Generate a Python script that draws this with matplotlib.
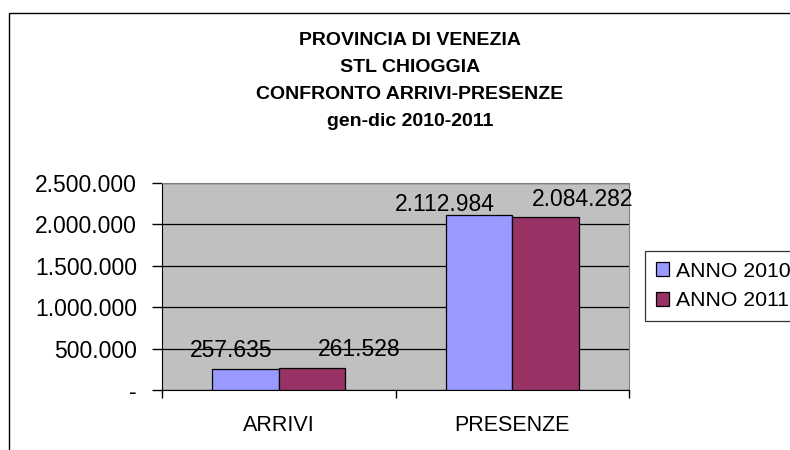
import numpy as np
from matplotlib import pyplot as plt
from matplotlib.patches import Rectangle
from matplotlib.ticker import FuncFormatter

plt.rcParams['font.family'] = ['Liberation Sans', 'DejaVu Sans']

categorie = ["ARRIVI", "PRESENZE"]
anno_2010 = [257635, 2112984]
anno_2011 = [261528, 2084282]
serie = ["ANNO 2010", "ANNO 2011"]
colori = ["#9999FF", "#993366"]
titolo = "PROVINCIA DI VENEZIA\nSTL CHIOGGIA\nCONFRONTO ARRIVI-PRESENZE\ngen-dic 2010-2011"

W, H = 790, 450


def fmt(v, pos=None):
    # formato italiano, zero come trattino
    if v == 0:
        return "-"
    return "{:,.0f}".format(v).replace(",", ".")


fig = plt.figure(figsize=(W / 100, H / 100), dpi=100)

# cornice del grafico (esce dall'immagine a destra e in basso)
fig.patches.append(Rectangle((9 / W, -0.1), 1.2, 1 - 13 / H + 0.1, transform=fig.transFigure,
                             fill=False, edgecolor="black", linewidth=1.0))

fig.text(410 / W, 1 - 81 / H, titolo, ha="center", va="center", fontsize=14,
         fontweight="bold", linespacing=1.78)

ax = fig.add_axes([162 / W, 1 - 390 / H, (629 - 162) / W, (390 - 183) / H])
ax.set_facecolor("#C0C0C0")

x = np.arange(len(categorie))
w = 0.285
b1 = ax.bar(x - w / 2, anno_2010, w, color=colori[0], edgecolor="black", linewidth=0.9,
            label=serie[0], zorder=3)
b2 = ax.bar(x + w / 2, anno_2011, w, color=colori[1], edgecolor="black", linewidth=0.9,
            label=serie[1], zorder=3)

# spostamenti delle etichette (pixel) come nell'originale
spost = [[(-14, 12), (-34, 4)], [(47, 12), (37, 11)]]
for s, bars in enumerate((b1, b2)):
    for i, r in enumerate(bars):
        dx, dy = spost[s][i]
        ax.annotate(fmt(r.get_height()), (r.get_x() + r.get_width() / 2, r.get_height()),
                    xytext=(dx * 0.72, dy * 0.72), textcoords="offset points",
                    ha="center", va="baseline", fontsize=16.5, zorder=4)

ax.set_xlim(-0.5, 1.5)
ax.set_ylim(0, 2500000)
ax.set_yticks(np.arange(0, 2500001, 500000))
ax.yaxis.set_major_formatter(FuncFormatter(fmt))
ax.yaxis.grid(True, color="black", linewidth=0.9, zorder=1)
ax.set_axisbelow(True)

ax.set_xticks(x)
ax.set_xticklabels(categorie, fontsize=15.5)
ax.tick_params(axis="x", length=0, pad=18)
ax.set_xticks([-0.5, 0.5, 1.5], minor=True)
ax.tick_params(axis="x", which="minor", length=6, width=1, color="black")
ax.tick_params(axis="y", length=7, width=1, labelsize=16.5, pad=11)

ax.spines["left"].set_color("black")
ax.spines["bottom"].set_color("black")
ax.spines["top"].set_color("#808080")
ax.spines["right"].set_color("#808080")

leg = fig.legend(loc="upper left", bbox_to_anchor=(645 / W, 1 - 251 / H), fontsize=15.3,
                 frameon=True, fancybox=False, edgecolor="black", handlelength=0.62,
                 handleheight=0.62, handletextpad=0.32, borderpad=0.5, labelspacing=0.5,
                 borderaxespad=0)
leg.get_frame().set_linewidth(0.9)

fig.savefig("out.png", dpi=100)
